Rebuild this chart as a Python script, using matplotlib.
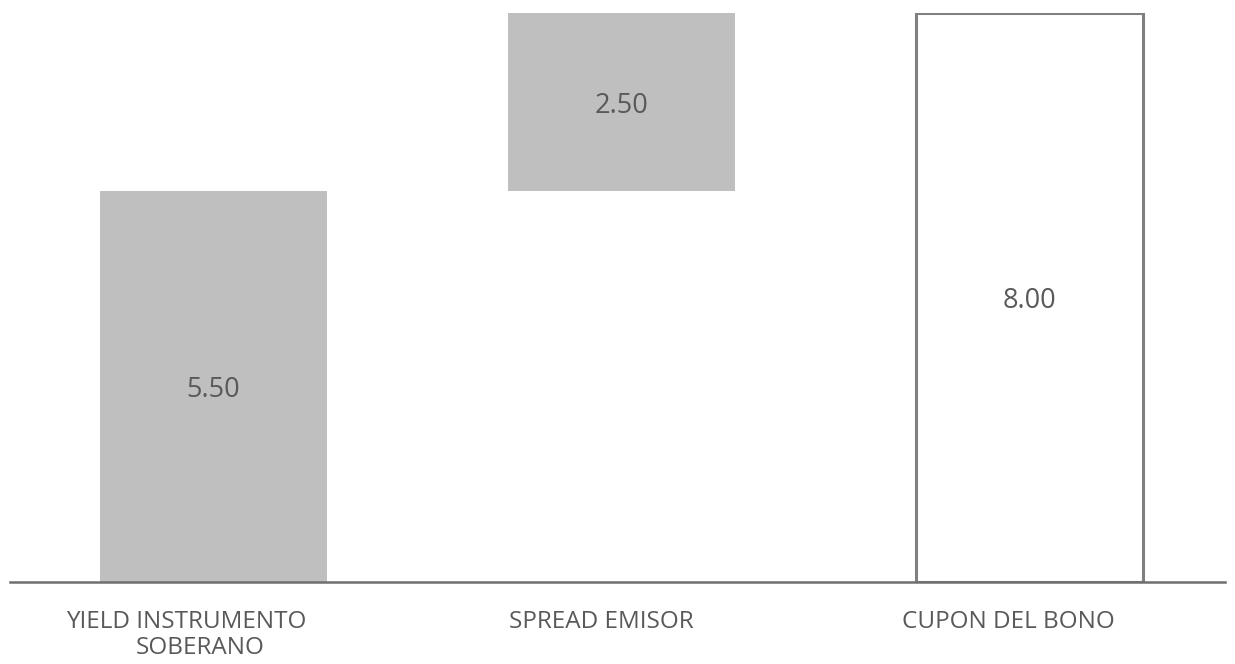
import matplotlib.pyplot as plt

categories = ["YIELD INSTRUMENTO\nSOBERANO", "SPREAD EMISOR", "CUPON DEL BONO"]
values = [5.50, 2.50, 8.00]
bases = [0.0, 5.50, 0.0]

plt.rcParams['font.family'] = ['Open Sans', 'DejaVu Sans']

fig = plt.figure(figsize=(12.35, 6.64), dpi=100)
ax = fig.add_axes([10 / 1235, 82 / 664, 1215 / 1235, 569 / 664])

x = list(range(len(categories)))
w = 0.556
ax.bar(x[:2], values[:2], bottom=bases[:2], width=w, color="#BFBFBF")
ax.bar(x[2], values[2], bottom=bases[2], width=w, facecolor="white",
       edgecolor="#808080", linewidth=2.2)

# value labels in the middle of each bar
for i, v in enumerate(values):
    ax.annotate("{:.2f}".format(v), xy=(i, bases[i] + v / 2),
                xytext=(0, -4), textcoords="offset pixels",
                ha="center", va="center", fontsize=19.5, color="#595959")

# category labels (sit a bit left of the bar centres, like the original)
line_dx = [[-27, -13], [-20], [-21]]
for i, cat in enumerate(categories):
    for j, line in enumerate(cat.split("\n")):
        ax.annotate(line, xy=(i, 0), xycoords=("data", "axes fraction"),
                    xytext=(line_dx[i][j], -40 - 26 * j), textcoords="offset pixels",
                    ha="center", va="center", fontsize=17.5, color="#595959",
                    annotation_clip=False)

ax.set_xlim(-0.4988, 2.479)
ax.set_ylim(0, 8.0)
ax.set_xticks([])
ax.set_yticks([])
for s in ["top", "right", "left"]:
    ax.spines[s].set_visible(False)
ax.spines["bottom"].set_color("#6F6F6F")
ax.spines["bottom"].set_linewidth(1.8)

fig.savefig("out.png", dpi=100)
